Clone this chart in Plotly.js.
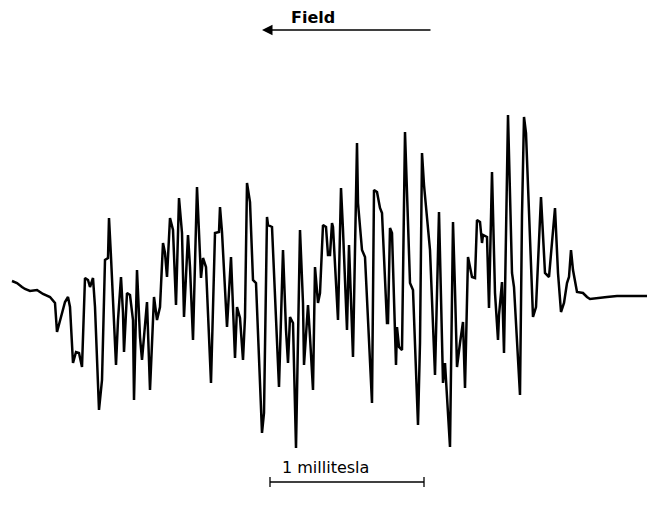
<!DOCTYPE html>
<html>
<head>
<meta charset="utf-8">
<script src="https://cdn.plot.ly/plotly-3.0.1.min.js"></script>
<style>html,body{margin:0;padding:0;background:#fff;}#chart{width:648px;height:515px;}</style>
</head>
<body>
<div id="chart"></div>
<script>
// Field position (arbitrary units, 154 units = 1 millitesla)
const field = [
  12,17,22,25,30,37,40,43,50,55,
  57,62,65,68,70,73,76,79,82,85,
  88,90,93,95,99,102,105,108,109,111,
  116,118,121,123,124,127,130,133,134,137,
  140,142,147,150,154,157,160,163,165,167,
  170,173,176,179,182,184,188,190,193,197,
  201,203,206,211,215,219,220,222,227,231,
  235,237,240,243,245,247,250,253,256,262,
  264,267,268,272,279,283,286,288,290,293,
  296,300,303,304,307,308,310,313,315,318,
  320,323,326,328,330,332,333,338,341,343,
  347,349,353,357,358,362,365,372,374,377,
  380,382,387,388,390,392,396,397,399,402,
  405,407,410,413,418,420,422,424,430,435,
  439,443,445,450,453,455,457,460,463,465,
  468,472,475,477,480,482,483,487,489,492,
  495,498,499,502,504,508,512,514,520,522,
  524,526,533,536,541,545,549,555,558,561,
  564,567,569,571,573,577,583,587,590,607,
  617,647
];
// Derivative signal (arbitrary units, baseline = 0)
const signal = [
  16,14,10,8,6,7,5,3,0,-6,
  -35,-16,-5,0,-10,-66,-55,-56,-70,19,
  17,10,19,-10,-113,-83,37,39,79,40,
  -68,-23,20,-16,-55,4,2,-23,-103,27,
  -40,-63,-5,-93,0,-23,-10,54,44,20,
  79,67,-8,99,64,-20,62,30,-43,110,
  19,39,30,-86,64,65,90,65,-30,40,
  -61,-10,-21,-63,-20,114,95,17,14,-136,
  -116,80,72,70,-90,47,-33,-66,-20,-26,
  -151,67,-6,-68,-23,-8,-40,-93,30,-6,
  4,72,70,42,42,74,70,-23,109,67,
  -33,52,-60,154,94,47,40,-106,107,105,
  89,84,-26,-26,69,64,-68,-30,-50,-53,
  165,94,14,7,-128,-46,144,112,47,-78,
  85,-86,-66,-150,75,7,-70,-46,-25,-91,
  40,20,19,77,75,54,62,60,-11,125,
  4,-43,-18,15,-56,182,24,10,-98,82,
  180,164,-20,-10,100,24,20,89,24,-15,
  -6,14,20,47,27,5,4,0,-2,0,
  1,1
];
const fieldLabel = "Field";
const scaleLabel = "1 millitesla";
const scaleStart = 270, scaleEnd = 424; // 1 mT

const trace = {
  x: field, y: signal, type: 'scatter', mode: 'lines',
  line: {color: '#000', width: 2.5, shape: 'linear'},
  hoverinfo: 'skip'
};

const layout = {
  width: 648, height: 515,
  margin: {l: 0, r: 0, t: 0, b: 0},
  paper_bgcolor: '#fff', plot_bgcolor: '#fff',
  showlegend: false,
  xaxis: {range: [0, 648], visible: false, fixedrange: true},
  yaxis: {range: [-218, 297], visible: false, fixedrange: true},
  annotations: [
    {x: 313, y: 280, xref: 'x', yref: 'y', text: '<b>' + fieldLabel + '</b>', showarrow: false,
     font: {family: 'DejaVu Sans, sans-serif', size: 16, color: '#000'}},
    {x: 262, y: 267, xref: 'x', yref: 'y', ax: 432, ay: 267, axref: 'x', ayref: 'y',
     text: '', showarrow: true, arrowhead: 2, arrowsize: 1.5, arrowwidth: 1.4, arrowcolor: '#000'},
    {x: 325, y: -170, xref: 'x', yref: 'y', text: scaleLabel, showarrow: false,
     font: {family: 'DejaVu Sans, sans-serif', size: 16, color: '#000'}}
  ],
  shapes: [
    {type: 'line', xref: 'x', yref: 'y', x0: scaleStart, x1: scaleEnd, y0: -185, y1: -185,
     line: {color: '#000', width: 1.3}},
    {type: 'line', xref: 'x', yref: 'y', x0: scaleStart, x1: scaleStart, y0: -180, y1: -190,
     line: {color: '#000', width: 1.3}},
    {type: 'line', xref: 'x', yref: 'y', x0: scaleEnd, x1: scaleEnd, y0: -180, y1: -190,
     line: {color: '#000', width: 1.3}}
  ]
};

Plotly.newPlot('chart', [trace], layout, {staticPlot: true, displayModeBar: false});
</script>
</body>
</html>
